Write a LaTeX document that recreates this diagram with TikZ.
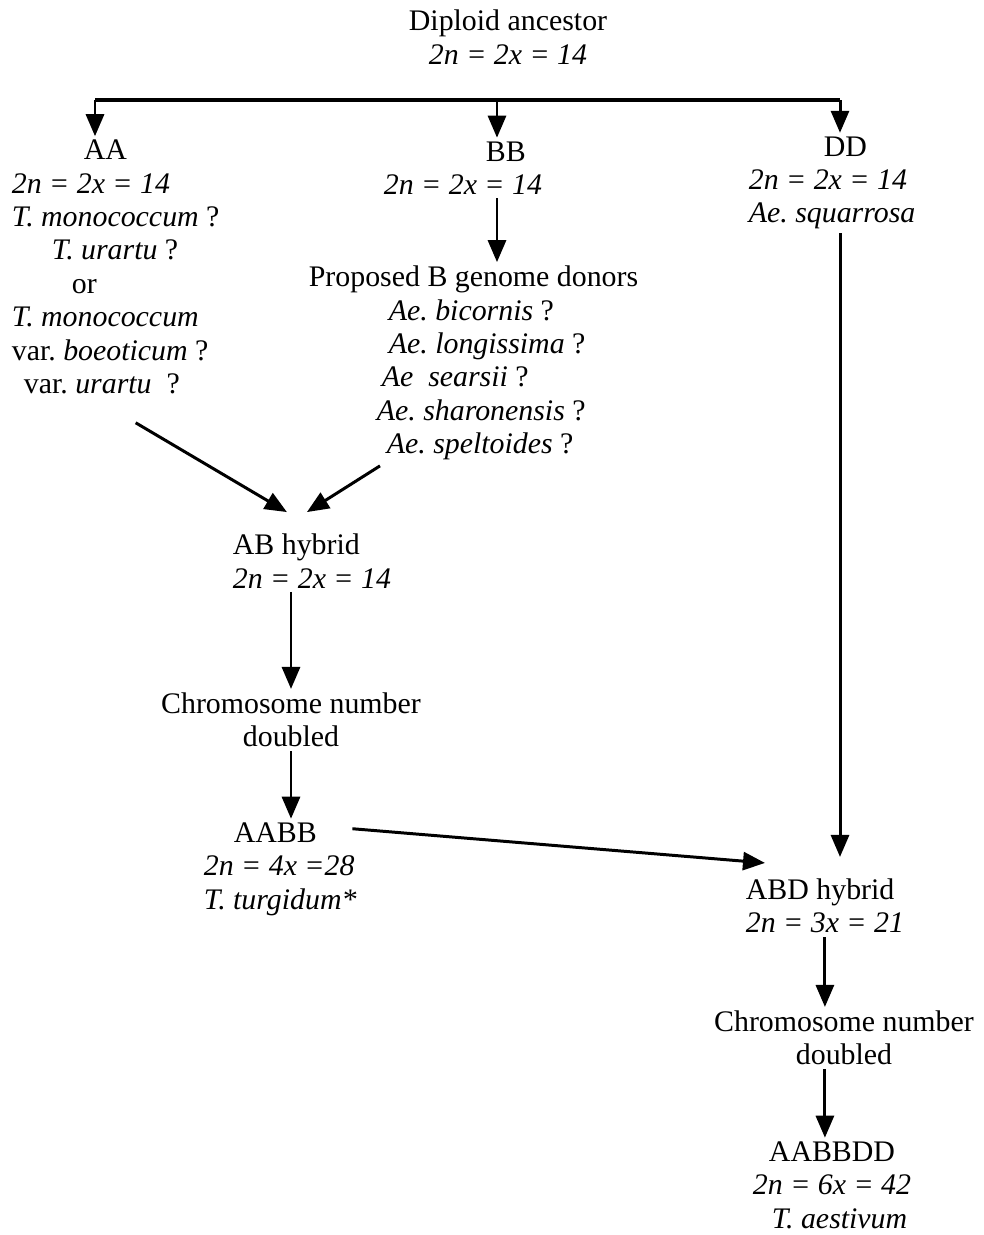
\documentclass[tikz,border=0pt]{standalone}
\usepackage{fontspec}
\setmainfont{Liberation Serif}
\usetikzlibrary{arrows.meta,calc}
\frenchspacing
\tikzset{node distance=2.0cm, auto}
\tikzset{
  lbl/.style={font=\fontsize{17}{19}\selectfont, inner sep=2pt},
  arr/.style={-{Triangle[length=0.44cm,width=0.36cm]}, line width=1.7pt}
}

\begin{document}
\begin{tikzpicture}[x=0.02cm, y=-0.02cm]
\useasboundingbox (0,0) rectangle (984,1235);
% the four lines of descent
\node[lbl, align=center] (anc) at (508,37) {Diploid ancestor\\ \textit{2n = 2x = 14}};
\node[lbl, align=left, anchor=west] (aa) at (8,267) {\hspace*{1.44cm}AA\\ \textit{2n = 2x = 14}\\ \textit{T. monococcum} ?\\
  \hspace*{0.8cm}\textit{T. urartu} ?\\ \hspace*{1.2cm}or\\ \textit{T. monococcum}\\ var. \textit{boeoticum} ?\\ \hspace*{0.24cm}var. \textit{urartu}\ \ ?};
\node[lbl, align=left, anchor=west] (bb) at (380,168) {\hspace*{2.04cm}BB\\ \textit{2n = 2x = 14}};
\node[lbl, align=left, anchor=west] (donors) at (305,363) {Proposed B genome donors\\
  \hspace*{1.6cm}\textit{Ae. bicornis} ?\\ \hspace*{1.6cm}\textit{Ae. longissima} ?\\ \hspace*{1.46cm}\textit{Ae\ \ searsii} ?\\
  \hspace*{1.36cm}\textit{Ae. sharonensis} ?\\ \hspace*{1.56cm}\textit{Ae. speltoides} ?};
\node[lbl, align=left, anchor=west] (dd) at (745,183) {\hspace*{1.5cm}DD\\ \textit{2n = 2x = 14}\\ \textit{Ae. squarrosa}};
\node[lbl, align=left, anchor=west] (abh) at (229,561) {AB hybrid\\ \textit{2n = 2x = 14}};
\node[lbl, align=center] (chr1) at (291,720) {Chromosome number\\ doubled};
\node[lbl, align=left, anchor=west] (aabb) at (200,869) {\hspace*{0.6cm}AABB\\ \textit{2n = 4x =28}\\ \textit{T. turgidum*}};
\node[lbl, align=left, anchor=west] (abd) at (742,906) {ABD hybrid\\ \textit{2n = 3x = 21}};
\node[lbl, align=center] (chr2) at (844,1038) {Chromosome number\\ doubled};
\node[lbl, align=center] (aabbdd) at (832,1185) {AABBDD\\ \textit{2n = 6x = 42}\\ \hspace*{0.3cm}\textit{T. aestivum}};

% connectors
\coordinate (bl) at (95,100);
\coordinate (bm) at (497,100);
\coordinate (br) at (840,100);
\draw[line width=2.3pt] (bl) -- (br);
\draw[arr] (bl) -- (bl |- aa.north);
\draw[arr] (bm) -- (bm |- bb.north);
\draw[arr] (br) -- (br |- dd.north);
\draw[arr] (bm |- bb.south) -- (bm |- donors.north);
\draw[arr] ([shift={(20,25)}]aa.south) -- ([shift={(-25,-18)}]abh.north);
\draw[arr] ([shift={(75,2)}]donors.south west) -- ([shift={(-5,-18)}]abh.north);
\draw[arr] (chr1.north |- abh.south) -- (chr1.north);
\draw[arr] (chr1.south) -- (chr1.south |- aabb.north);
\draw[arr] ([shift={(-8,10)}]aabb.north east) -- ([shift={(23,-12)}]abd.north west);
\draw[arr] (br |- dd.south) -- ($(br |- abd.north)+(0,-18)$);
\draw[arr] (abd.south) -- (abd.south |- chr2.north);
\draw[arr] (abd.south |- chr2.south) -- (abd.south |- aabbdd.north);
\end{tikzpicture}
\end{document}
